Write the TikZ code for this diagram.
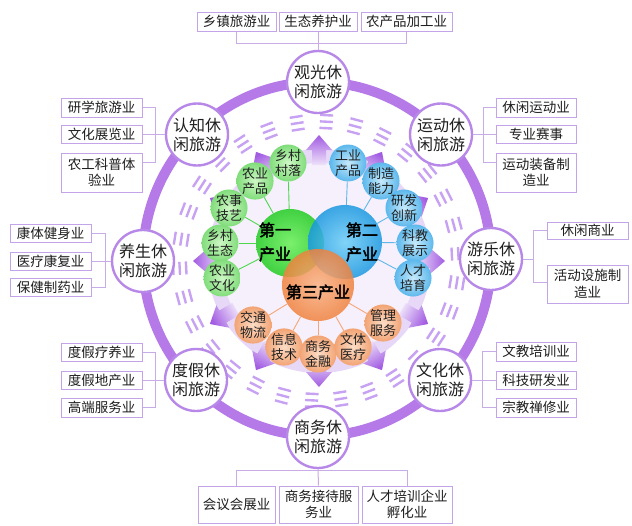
\documentclass[tikz,border=0pt]{standalone}
\usepackage{fontspec}
\setmainfont{Noto Sans CJK SC}
\newfontfamily\cjkbold[FakeBold=2.5]{Noto Sans CJK SC}
\usetikzlibrary{calc}
\pgfdeclarelayer{back}
\pgfdeclarelayer{mid}
\pgfsetlayers{back,mid,main}
\definecolor{ringc}{HTML}{B57AE8}
\definecolor{circc}{HTML}{B888E8}
\definecolor{boxc}{HTML}{C4A4E8}
\definecolor{connc}{HTML}{C8ACE8}
\definecolor{dashc}{HTML}{C8A2F2}
\definecolor{diskc}{HTML}{E8D8F8}
\definecolor{diskin}{HTML}{F6F0FC}
\definecolor{arrD}{HTML}{A25CE2}
\definecolor{arrL}{HTML}{EEE2FA}
\definecolor{txt}{HTML}{1E1E1E}
\definecolor{gIn}{HTML}{66F055}
\definecolor{gOut}{HTML}{22CC22}
\definecolor{bIn}{HTML}{6CCFF7}
\definecolor{bOut}{HTML}{1A98E0}
\definecolor{oIn}{HTML}{FAB282}
\definecolor{oOut}{HTML}{F0823E}
\definecolor{gsIn}{HTML}{CFF7C6}
\definecolor{gsOut}{HTML}{80DD7A}
\definecolor{bsIn}{HTML}{C6E9FB}
\definecolor{bsOut}{HTML}{5CB8EC}
\definecolor{osIn}{HTML}{FCDCC6}
\definecolor{osOut}{HTML}{F2A474}
\begin{document}
\begin{tikzpicture}[x=1pt,y=-1pt,
  box/.style={draw=boxc, line width=1pt, fill=white, inner sep=0pt, align=center, text=txt,
    font=\fontsize{13.5}{16.5}\selectfont},
  conn/.style={draw=connc, line width=1pt},
  oc/.style={circle, draw=circc, line width=2.4pt, fill=white, minimum size=62pt, inner sep=0pt,
    align=center, text=txt, font=\fontsize{16}{19}\selectfont},
  sat/.style={circle, minimum size=36pt, inner sep=0pt, align=center, text=txt,
    font=\fontsize{13}{14.5}\selectfont},
  gsat/.style={sat, inner color=gsIn, outer color=gsOut},
  bsat/.style={sat, inner color=bsIn, outer color=bsOut},
  osat/.style={sat, inner color=osIn, outer color=osOut},
  big/.style={circle, inner sep=0pt, fill opacity=0.85},
  bigtxt/.style={align=center, text=black, font=\cjkbold\fontsize{16}{24}\selectfont},
  gl/.style={draw=gOut!80, line width=0.9pt},
  bl/.style={draw=bOut!70, line width=0.9pt},
  ol/.style={draw=oOut!70, line width=0.9pt}]
\useasboundingbox (0,0) rectangle (632,525);
\coordinate (O) at (319,261);
\coordinate (R) at (317,259);

\begin{pgfonlayer}{back}
  \fill[white] (0,0) rectangle (632,525);
  \fill[diskc] (O) circle [radius=112pt];
  \fill[diskin] (O) circle [radius=98pt];
  \foreach \a [evaluate=\a as \sa using \a-90] in {0,30,...,330} {
    \shade[top color=arrD, bottom color=arrL, shading angle=\sa, shift={(O)}, rotate=\a]
      (96,-7) -- (111,-7) -- (111,-13) -- (126,0) -- (111,13) -- (111,7) -- (96,7) -- cycle;
  }
  \foreach \a in {3,15,...,351} {
    \draw[dashc, line width=2.4pt, shift={(O)}, rotate=\a]
      (133,-6.5) -- (133,6.5) (139.5,-6.5) -- (139.5,6.5) (146,-6.5) -- (146,6.5);
  }
  \draw[ringc, line width=10pt] (R) ellipse [x radius=174pt, y radius=177pt];
\end{pgfonlayer}

% outer circles
\node[oc] (cg) at (318,82) {观光休\\闲旅游};
\node[oc] (ck) at (197,134.5) {认知休\\闲旅游};
\node[oc] (cs) at (441,134.5) {运动休\\闲旅游};
\node[oc] (cy) at (143,261) {养生休\\闲旅游};
\node[oc] (cl) at (491,259) {游乐休\\闲旅游};
\node[oc] (cd) at (196,380) {度假休\\闲旅游};
\node[oc] (cw) at (440,380) {文化休\\闲旅游};
\node[oc] (cb) at (318,437) {商务休\\闲旅游};

% top boxes
\node[box, minimum width=79pt, minimum height=19pt] (t1) at (236.5,21.5) {乡镇旅游业};
\node[box, minimum width=78pt, minimum height=19pt] (t2) at (318,21.5) {生态养护业};
\node[box, minimum width=91pt, minimum height=19pt] (t3) at (406.5,21.5) {农产品加工业};
\draw[conn] (t1.south) -- ++(0,12) -| (t3.south);
\draw[conn] (t2.south) -- (cg.north);

% 认知
\node[box, minimum width=81pt, minimum height=19pt] (k1) at (101.5,107.5) {研学旅游业};
\node[box, minimum width=81pt, minimum height=18pt] (k2) at (101.5,134.5) {文化展览业};
\node[box, minimum width=81pt, minimum height=39pt] (k3) at (101.5,172.5) {农工科普体\\验业};
\draw[conn] (k1.east) -- (155,107.5) -- (155,162) -- (k3.east |- 0,162);
\draw[conn] (k2.east) -- (ck.west);

% 运动
\node[box, minimum width=80pt, minimum height=19pt] (s1) at (536,107.5) {休闲运动业};
\node[box, minimum width=80pt, minimum height=18pt] (s2) at (536,134.5) {专业赛事};
\node[box, minimum width=80pt, minimum height=39pt] (s3) at (536,172.5) {运动装备制\\造业};
\draw[conn] (s1.west) -- (483,107.5) -- (483,162) -- (s3.west |- 0,162);
\draw[conn] (s2.west) -- (cs.east);

% 养生
\node[box, minimum width=81pt, minimum height=18pt] (y1) at (50.5,233) {康体健身业};
\node[box, minimum width=81pt, minimum height=18pt] (y2) at (50.5,261) {医疗康复业};
\node[box, minimum width=81pt, minimum height=18pt] (y3) at (50.5,287.5) {保健制药业};
\draw[conn] (y1.east) -- (105,233) -- (105,287.5) -- (y3.east);
\draw[conn] (y2.east) -- (cy.west);

% 游乐
\node[box, minimum width=81pt, minimum height=17pt] (l1) at (587.5,230.5) {休闲商业};
\node[box, minimum width=81pt, minimum height=38pt] (l2) at (587.5,284) {活动设施制\\造业};
\draw[conn] (l1.west) -- (533,230.5) -- (533,282) -- (l2.west |- 0,282);
\draw[conn] (cl.east) -- (533,259);

% 度假
\node[box, minimum width=81pt, minimum height=18pt] (d1) at (101.5,352) {度假疗养业};
\node[box, minimum width=81pt, minimum height=18pt] (d2) at (101.5,380) {度假地产业};
\node[box, minimum width=81pt, minimum height=19pt] (d3) at (101.5,407.5) {高端服务业};
\draw[conn] (d1.east) -- (155,352) -- (155,407.5) -- (d3.east);
\draw[conn] (d2.east) -- (cd.west);

% 文化
\node[box, minimum width=80pt, minimum height=19pt] (w1) at (536,351.5) {文教培训业};
\node[box, minimum width=80pt, minimum height=18pt] (w2) at (536,380) {科技研发业};
\node[box, minimum width=80pt, minimum height=19pt] (w3) at (536,407.5) {宗教禅修业};
\draw[conn] (w1.west) -- (482,351.5) -- (482,407.5) -- (w3.west);
\draw[conn] (w2.west) -- (cw.east);

% 商务
\node[box, minimum width=77pt, minimum height=37pt] (u1) at (236.5,504.5) {会议会展业};
\node[box, minimum width=79pt, minimum height=37pt] (u2) at (318.5,504.5) {商务接待服\\务业};
\node[box, minimum width=90pt, minimum height=37pt] (u3) at (407,504.5) {人才培训企业\\孵化业};
\draw[conn] (u1.north) -- ++(0,-15) -| (u3.north);
\draw[conn] (u2.north) -- (cb.south);

% central circles
\node[big, minimum size=68pt, inner color=gIn, outer color=gOut] (cG) at (290,243) {};
\node[big, minimum size=74pt, inner color=bIn, outer color=bOut] (cB) at (345,242) {};
\node[big, minimum size=72pt, inner color=oIn, outer color=oOut] (cO) at (318,285) {};
\node[bigtxt] at (275,242) {第一\\产业};
\node[bigtxt] at (362,242) {第二\\产业};
\node[bigtxt] at (318,292) {第三产业};

% satellites
\node[gsat] (g1) at (288,163) {乡村\\村落};
\node[gsat] (g2) at (255,181) {农业\\产品};
\node[gsat] (g3) at (229,208) {农事\\技艺};
\node[gsat] (g4) at (220,243) {乡村\\生态};
\node[gsat] (g5) at (222,278) {农业\\文化};
\node[bsat] (s1b) at (348,163) {工业\\产品};
\node[bsat] (s2b) at (381,181) {制造\\能力};
\node[bsat] (s3b) at (404,208) {研发\\创新};
\node[bsat] (s4b) at (415,243) {科教\\展示};
\node[bsat] (s5b) at (413,278) {人才\\培育};
\node[osat] (o1) at (253,325) {交通\\物流};
\node[osat] (o2) at (284,347) {信息\\技术};
\node[osat] (o3) at (318,354) {商务\\金融};
\node[osat] (o4) at (353,347) {文体\\医疗};
\node[osat] (o5) at (383,323) {管理\\服务};

\begin{pgfonlayer}{mid}
  \foreach \n in {g1,g2,g3,g4,g5} \draw[gl] (cG) -- (\n);
  \foreach \n in {s1b,s2b,s3b,s4b,s5b} \draw[bl] (cB) -- (\n);
  \foreach \n in {o1,o2,o3,o4,o5} \draw[ol] (cO) -- (\n);
\end{pgfonlayer}
\end{tikzpicture}
\end{document}
